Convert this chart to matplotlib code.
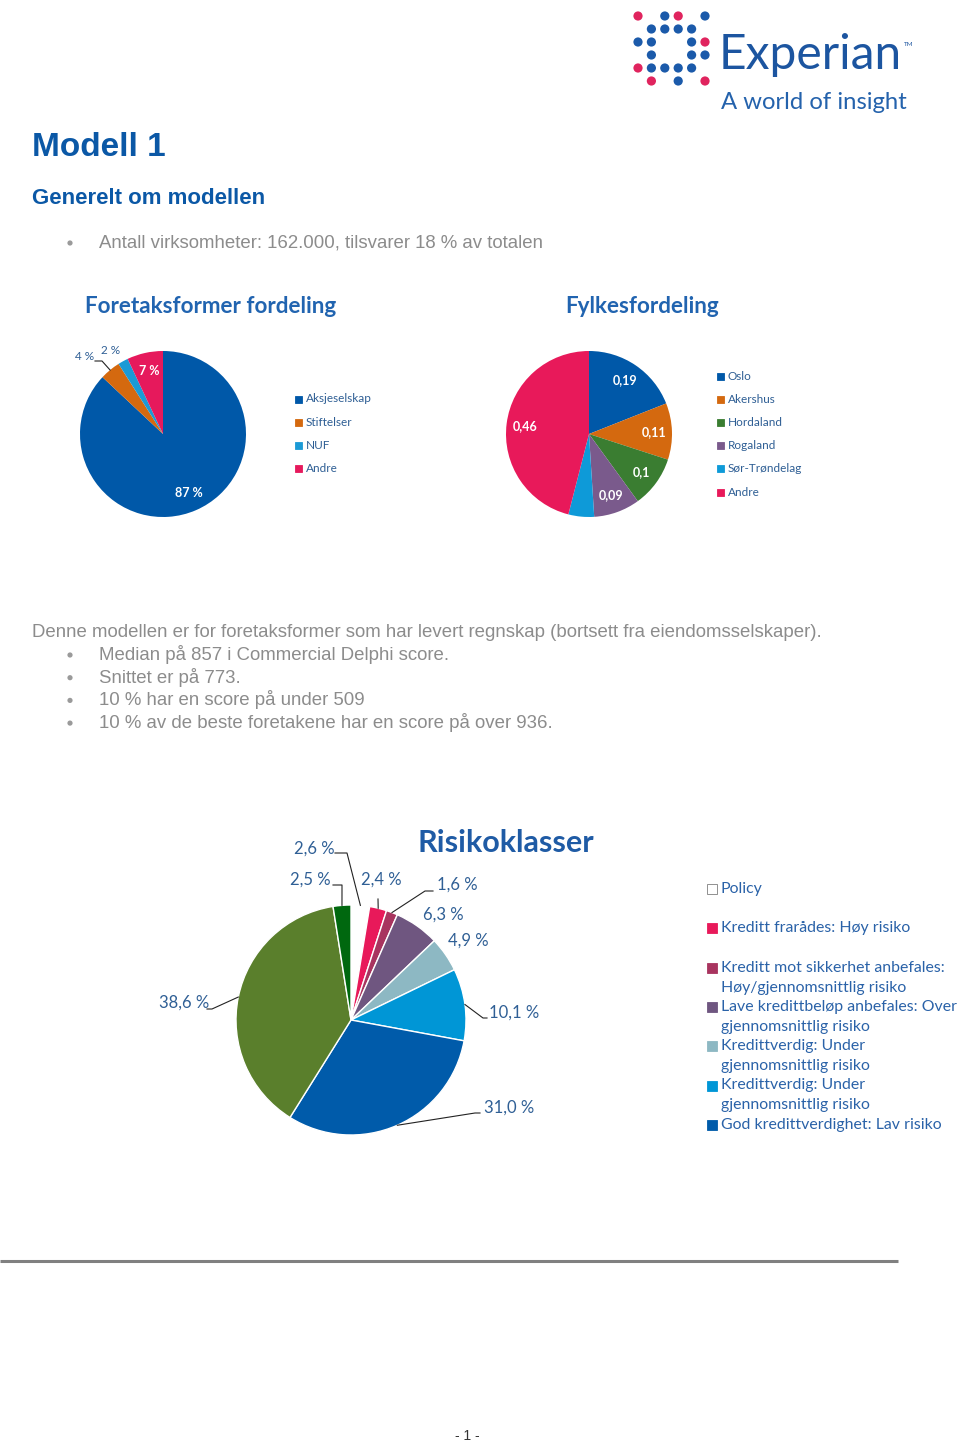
import numpy as np
import matplotlib
matplotlib.use("Agg")
import matplotlib.pyplot as plt
from matplotlib.patches import Rectangle, Circle

# data
form_labels = ["Aksjeselskap", "Stiftelser", "NUF", "Andre"]
form_values = [87, 4, 2, 7]
form_colors = ["#0058A8", "#D4690F", "#1B9AD6", "#E6195C"]

fylke_labels = ["Oslo", "Akershus", "Hordaland", "Rogaland", "Sør-Trøndelag", "Andre"]
fylke_values = [0.19, 0.11, 0.10, 0.09, 0.05, 0.46]
fylke_colors = ["#0058A8", "#D4690F", "#3A7D31", "#7A5A8C", "#0E9AD8", "#E8195A"]

risk_labels = ["Policy",
               "Kreditt frarådes: Høy risiko",
               "Kreditt mot sikkerhet anbefales:\nHøy/gjennomsnittlig risiko",
               "Lave kredittbeløp anbefales: Over\ngjennomsnittlig risiko",
               "Kredittverdig: Under\ngjennomsnittlig risiko",
               "Kredittverdig: Under\ngjennomsnittlig risiko",
               "God kredittverdighet: Lav risiko",
               "Svært god kredittverdighet",
               "Meget lav risiko"]
risk_values = [2.6, 2.4, 1.6, 6.3, 4.9, 10.1, 31.0, 38.6, 2.5]
risk_colors = ["#FFFFFF", "#E8195A", "#A8345F", "#6F5680", "#8DB8C3",
               "#0096D6", "#005BAA", "#5A7F2C", "#00680F"]
risk_in_legend = 7

W, H = 960, 1443
BLUE = "#0B58A6"
CBLUE = "#2164B0"
LBLUE = "#2F5F95"
GREY = "#8C8C8C"

fig = plt.figure(figsize=(W / 100, H / 100), dpi=100)
page = fig.add_axes([0, 0, 1, 1])
page.set_xlim(0, W)
page.set_ylim(H, 0)
page.axis("off")
page.patch.set_alpha(0)
page.set_zorder(5)

# logo
dots = ["p.bp.b",
        ".bbbb.",
        "bb..bp",
        ".b..bb",
        "pbbbb.",
        ".p.b.p"]
for r, row in enumerate(dots):
    for c, ch in enumerate(row):
        if ch == ".":
            continue
        col = "#E0245E" if ch == "p" else "#1B5AAA"
        page.add_patch(Circle((638 + 13.4 * c, 16 + 13 * r), 4.6, color=col, lw=0))
page.text(719, 69, "Experian", fontsize=34.5, family="Lato", color="#1C55A0", va="baseline")
page.text(904, 46, "TM", fontsize=4.5, family="Lato", color="#1C55A0", va="baseline")
page.text(721, 109, "A world of insight", fontsize=17.2, family="Lato", color="#2462AC", va="baseline")


def bullet(y):
    page.add_patch(Circle((70, y - 5), 2.6, color="#9A9A9A", lw=0))


# header text
page.text(32, 156, "Modell 1", fontsize=24, weight="bold", family="Liberation Sans", color=BLUE, va="baseline")
page.text(32, 204, "Generelt om modellen", fontsize=16, weight="bold", family="Liberation Sans", color=BLUE, va="baseline")
bullet(248)
page.text(99, 248, "Antall virksomheter: 162.000, tilsvarer 18 % av totalen", fontsize=13.4,
          family="Liberation Sans", color=GREY, va="baseline")

page.text(85, 313, "Foretaksformer fordeling", fontsize=16.2, weight="bold", family="Lato", color=CBLUE, va="baseline")
page.text(565, 313, "Fylkesfordeling", fontsize=16.2, weight="bold", family="Lato", color=CBLUE, va="baseline")

para = ["Median på 857 i Commercial Delphi score.",
        "Snittet er på 773.",
        "10 % har en score på under 509",
        "10 % av de beste foretakene har en score på over 936."]
page.text(32, 637, "Denne modellen er for foretaksformer som har levert regnskap (bortsett fra eiendomsselskaper).",
          fontsize=13.4, family="Liberation Sans", color=GREY, va="baseline")
for i, s in enumerate(para):
    y = 660 + 22.7 * i
    bullet(y)
    page.text(99, y, s, fontsize=13.4, family="Liberation Sans", color=GREY, va="baseline")

# footer
page.plot([0, 898], [1261, 1261], color="#808080", lw=2.2, solid_capstyle="butt")
page.text(467, 1440, "- 1 -", fontsize=10, family="Liberation Sans", color="#333333", ha="center", va="baseline")


def pie_at(cx, cy, r, values, colors, ec=None, lw=0):
    ax = fig.add_axes([(cx - r) / W, 1 - (cy + r) / H, 2 * r / W, 2 * r / H])
    wp = dict(linewidth=lw, clip_on=False)
    if ec:
        wp["edgecolor"] = ec
    wedges, _ = ax.pie(values, colors=colors, startangle=90, counterclock=False, radius=1,
                       wedgeprops=wp)
    ax.set_xlim(-1, 1)
    ax.set_ylim(-1, 1)
    ax.axis("off")
    return wedges


def wedge_pt(cx, cy, r, w, frac=1.0):
    t = np.deg2rad((w.theta1 + w.theta2) / 2)
    return cx + frac * r * np.cos(t), cy - frac * r * np.sin(t)


def leader(start, elbow, end):
    xs = [start[0]] + ([elbow[0]] if elbow else []) + [end[0]]
    ys = [start[1]] + ([elbow[1]] if elbow else []) + [end[1]]
    page.plot(xs, ys, color="#222222", lw=0.8)


def legend(x, y0, dy, labels, colors, sq, fs, color, line_dy=0):
    for i, (lab, col) in enumerate(zip(labels, colors)):
        y = y0 + dy * i
        ec = "#7F7F7F" if col.upper() == "#FFFFFF" else col
        page.add_patch(Rectangle((x, y - sq / 2), sq, sq, facecolor=col, edgecolor=ec, lw=0.6))
        for j, line in enumerate(lab.split("\n")):
            page.text(x + sq + 4, y + line_dy * j, line, fontsize=fs, family="Lato", color=color, va="center")


# pie 1: Foretaksformer
c1 = (163, 434, 83)
w1 = pie_at(*c1, form_values, form_colors)
for w, v in zip(w1, form_values):
    if v >= 5:
        px, py = wedge_pt(*c1, w, 0.78)
        page.text(px, py, f"{v} %", color="white", weight="bold", fontsize=9, family="Lato",
                  ha="center", va="center")
page.text(85, 357, f"{form_values[1]} %", color=LBLUE, fontsize=8.5, family="Lato", ha="center", va="center")
leader((95, 361), (102, 361), wedge_pt(*c1, w1[1]))
page.text(111, 350, f"{form_values[2]} %", color=LBLUE, fontsize=8.5, family="Lato", ha="center", va="center")
legend(295, 399, 23.3, form_labels, form_colors, 7, 8.5, "#2E5E94")

# pie 2: Fylkesfordeling
c2 = (589, 434, 83)
w2 = pie_at(*c2, fylke_values, fylke_colors)
for w, v in zip(w2, fylke_values):
    if v >= 0.08:
        px, py = wedge_pt(*c2, w, 0.78)
        page.text(px, py, f"{v:g}".replace(".", ","), color="white", weight="bold", fontsize=9,
                  family="Lato", ha="center", va="center")
legend(717, 376, 23.2, fylke_labels, fylke_colors, 7, 8.5, "#2E5E94")

# pie 3: Risikoklasser
page.text(506, 843, "Risikoklasser", fontsize=22, weight="bold", family="Lato", color="#1F5BA5",
          ha="center", va="center")
c3 = (351, 1020, 115)
w3 = pie_at(*c3, risk_values, risk_colors, ec="white", lw=1.0)
lab_pos = [(314, 849), (381, 880), (457, 885), (443, 915), (468, 941),
           (514, 1013), (509, 1108), (184, 1003), (310, 880)]
lead = [((335, 853), (347, 853)), ((378, 899), None), ((433, 891), (425, 891)), None, None,
        ((487, 1018), (483, 1018)), ((480, 1113), (475, 1113)), ((207, 1009), (212, 1009)),
        ((333, 885), (342, 885))]
for w, v, pos, ld in zip(w3, risk_values, lab_pos, lead):
    page.text(pos[0], pos[1], f"{v:.1f}".replace(".", ",") + " %", fontsize=12, family="Lato",
              color=LBLUE, ha="center", va="center")
    if ld:
        leader(ld[0], ld[1], wedge_pt(*c3, w))
legend(707, 889, 39.3, risk_labels[:risk_in_legend], risk_colors[:risk_in_legend], 10, 11.4,
       "#2A62A8", line_dy=20)

fig.savefig("out.png", dpi=100)
